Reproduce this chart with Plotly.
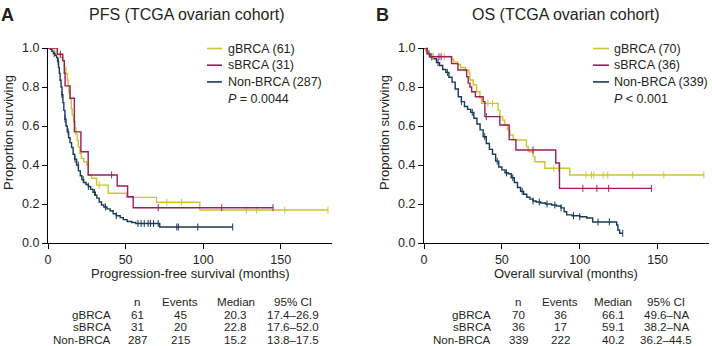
import numpy as np
import plotly.graph_objects as go

W, H = 712, 346
FONT = "Liberation Sans, Arial, Helvetica, sans-serif"
TXT = "#231f20"

# ---------------- data ----------------
groups = ["gBRCA", "sBRCA", "Non-BRCA"]
colors = ["#c9c62e", "#9c1d5d", "#183a5a"]

# PFS (TCGA ovarian cohort) – Kaplan-Meier step points (months, proportion)
pfs_g_t = [0, 4, 6, 8, 9.5, 10.5, 11.5, 12.5, 13, 13.5, 14.2, 15, 15.6, 16.5, 17.4, 18, 18.8, 19.5,
           20.6, 21.5, 23, 25, 26, 28, 31.3, 38.8, 50.6, 69.9, 97.8, 180.4]
pfs_g_s = [1.0, 0.984, 0.967, 0.951, 0.934, 0.902, 0.869, 0.836, 0.803, 0.77, 0.738, 0.689, 0.656, 0.623,
           0.59, 0.557, 0.525, 0.492, 0.459, 0.434, 0.417, 0.40, 0.349, 0.332, 0.297, 0.255, 0.234, 0.209,
           0.169, 0.169]
pfs_g_cens = [33, 76.6, 86, 127.8, 134.3, 152.5, 180.4]

pfs_s_t = [0, 6, 9.5, 10.5, 11, 14.2, 17, 21.2, 25.9, 44.6, 51.3, 54.9, 145]
pfs_s_s = [1.0, 0.968, 0.935, 0.871, 0.806, 0.742, 0.57, 0.468, 0.349, 0.292, 0.237, 0.181, 0.181]
pfs_s_cens = [8, 41, 71, 112, 145]

pfs_n_t = [0, 1.5, 2.5, 3.5, 4.5, 5.5, 6.2, 6.8, 7.3, 7.8, 8.4, 9.0, 9.6, 10.2, 10.9, 11.6, 12.4, 13.3,
           14.2, 15.2, 16.2, 17.2, 18.4, 19.6, 20.8, 21.8, 23.0, 24.5, 26.0, 27.5, 29.0, 30.5, 31.5, 33.0,
           34.5, 36.0, 38.0, 40.0, 42.0, 44.0, 46.5, 48.5, 51.0, 54.0, 56.5, 72.0, 119]
pfs_n_s = [1.0, 0.993, 0.983, 0.972, 0.962, 0.951, 0.93, 0.90, 0.87, 0.835, 0.80, 0.76, 0.72, 0.68, 0.635,
           0.60, 0.57, 0.54, 0.515, 0.49, 0.455, 0.43, 0.40, 0.37, 0.345, 0.325, 0.31, 0.30, 0.29, 0.275,
           0.26, 0.245, 0.23, 0.21, 0.195, 0.185, 0.175, 0.165, 0.15, 0.14, 0.13, 0.12, 0.11, 0.105, 0.10,
           0.082, 0.082]
pfs_n_cens = [4, 6.6, 9, 11, 13, 17.4, 19.5, 22.7, 26, 30, 37, 44, 58, 60, 62, 64.5, 66, 68, 71, 83, 84,
              96.5, 119]

# OS (TCGA ovarian cohort)
os_g_t = [0, 1, 2.5, 3.5, 17.7, 19, 21.5, 23.5, 26.5, 28.8, 29.5, 31.6, 33.8, 35.9, 37, 47.6, 48.7, 50.5,
          51.9, 53.6, 55.1, 57.3, 65.8, 66.9, 70.1, 71.2, 77.6, 93.6, 179.7]
os_g_s = [1.0, 0.986, 0.971, 0.957, 0.943, 0.929, 0.914, 0.90, 0.886, 0.871, 0.836, 0.81, 0.776, 0.743,
          0.716, 0.68, 0.648, 0.63, 0.605, 0.58, 0.554, 0.528, 0.494, 0.468, 0.443, 0.417, 0.383, 0.349,
          0.349]
os_g_cens = [6, 13, 41, 44, 83.3, 86.5, 104, 107.5, 109, 115, 118, 134, 154, 179.7]

os_s_t = [0, 2, 3.5, 17.7, 21.8, 27.4, 28.4, 29.5, 30.6, 33, 38, 39.1, 48.7, 54.7, 59, 84.6, 87, 146]
os_s_s = [1.0, 0.972, 0.955, 0.92, 0.887, 0.853, 0.82, 0.80, 0.776, 0.75, 0.725, 0.648, 0.605, 0.53,
          0.477, 0.41, 0.28, 0.28]
os_s_cens = [9.6, 11, 40, 70, 102, 111, 118.6, 146]

os_n_t = [0, 1, 2, 3, 4, 6, 8, 10, 12, 14, 16, 18, 20, 22, 24, 26, 28, 30, 32, 34, 36, 38, 40, 42, 44,
          46, 48, 50, 52, 54, 56, 58, 60, 62, 64, 66, 68, 70, 72, 75, 78, 82, 85, 88, 90, 91.6, 95, 100,
          104.5, 108.3, 123.7, 124.5, 125.6, 127.6]
os_n_s = [1.0, 0.994, 0.985, 0.97, 0.955, 0.945, 0.925, 0.91, 0.89, 0.875, 0.85, 0.825, 0.79, 0.75, 0.725,
          0.70, 0.685, 0.67, 0.64, 0.61, 0.58, 0.545, 0.51, 0.48, 0.455, 0.42, 0.39, 0.375, 0.36, 0.355,
          0.335, 0.31, 0.285, 0.265, 0.25, 0.235, 0.225, 0.215, 0.21, 0.205, 0.20, 0.195, 0.19, 0.18, 0.16,
          0.144, 0.14, 0.135, 0.128, 0.108, 0.092, 0.067, 0.05, 0.05]
os_n_cens = [2, 5, 9, 15, 24, 31, 39, 47, 53, 57, 63, 70, 74, 79, 84, 88, 96, 100, 111.7, 119, 127.6]

x_ticks = [0, 50, 100, 150]
y_ticks = [0.0, 0.2, 0.4, 0.6, 0.8, 1.0]
y_tick_labels = ["0.0", "0.2", "0.4", "0.6", "0.8", "1.0"]

pfs_legend = ["gBRCA (61)", "sBRCA (31)", "Non-BRCA (287)"]
os_legend = ["gBRCA (70)", "sBRCA (36)", "Non-BRCA (339)"]
pfs_p = "<i>P</i> = 0.0044"
os_p = "<i>P</i> &lt; 0.001"

table_header = ["n", "Events", "Median", "95% CI"]
pfs_n = ["61", "31", "287"]
pfs_events = ["45", "20", "215"]
pfs_median = ["20.3", "22.8", "15.2"]
pfs_ci = ["17.4–26.9", "17.6–52.0", "13.8–17.5"]
os_n = ["70", "36", "339"]
os_events = ["36", "17", "222"]
os_median = ["66.1", "59.1", "40.2"]
os_ci = ["49.6–NA", "38.2–NA", "36.2–44.5"]

# ---------------- figure ----------------
def px(x):
    return x / W

def py(y):
    return 1 - y / H

def level(ts, ss, tc):
    ts = np.asarray(ts, float)
    idx = np.searchsorted(ts, np.asarray(tc, float), side="right") - 1
    return np.asarray(ss, float)[np.clip(idx, 0, len(ss) - 1)]

fig = go.Figure()

panels = [
    ("x", "y", [(pfs_g_t, pfs_g_s, pfs_g_cens), (pfs_s_t, pfs_s_s, pfs_s_cens), (pfs_n_t, pfs_n_s, pfs_n_cens)]),
    ("x2", "y2", [(os_g_t, os_g_s, os_g_cens), (os_s_t, os_s_s, os_s_cens), (os_n_t, os_n_s, os_n_cens)]),
]
for xa, ya, curves in panels:
    # draw Non-BRCA first so the BRCA curves sit on top
    for i in [2, 0, 1]:
        t, s, c = curves[i]
        fig.add_trace(go.Scatter(x=t, y=s, mode="lines", line=dict(color=colors[i], width=1.4, shape="hv"),
                                 xaxis=xa, yaxis=ya, showlegend=False, hoverinfo="skip", cliponaxis=False))
        fig.add_trace(go.Scatter(x=c, y=level(t, s, c), mode="markers",
                                 marker=dict(symbol="line-ns", size=5, line=dict(width=1, color=colors[i])),
                                 xaxis=xa, yaxis=ya, showlegend=False, hoverinfo="skip", cliponaxis=False))

axis_common = dict(showline=True, linecolor="black", linewidth=1.2, ticks="outside", ticklen=5,
                   tickcolor="black", tickwidth=1.2, showgrid=False, zeroline=False, automargin=False,
                   tickfont=dict(family=FONT, size=12.5, color=TXT))
fig.update_layout(
    width=W, height=H, margin=dict(l=0, r=0, t=0, b=0, pad=0, autoexpand=False), autosize=False,
    showlegend=False,
    paper_bgcolor="white", plot_bgcolor="white",
    font=dict(family=FONT, color=TXT),
    xaxis=dict(domain=[px(48), px(332)], range=[0, 183], tickvals=x_ticks, anchor="y", **axis_common),
    yaxis=dict(domain=[py(243), py(48)], range=[0, 1.0], tickvals=y_ticks, ticktext=y_tick_labels,
               anchor="x", **axis_common),
    xaxis2=dict(domain=[px(424), px(709)], range=[0, 183], tickvals=x_ticks, anchor="y2", **axis_common),
    yaxis2=dict(domain=[py(243), py(48)], range=[0, 1.0], tickvals=y_ticks, ticktext=y_tick_labels,
                anchor="x2", **axis_common),
)

ann = []
shapes = []

def text(x, y, s, size=12, xanchor="center", **kw):
    ann.append(dict(x=px(x), y=py(y), xref="paper", yref="paper", text=s, showarrow=False, borderpad=0,
                    xanchor=xanchor, yanchor="middle", font=dict(family=FONT, size=size, color=TXT), **kw))

# panel letters and titles
text(7, 15, "<b>A</b>", size=18)
text(383, 15, "<b>B</b>", size=18)
text(187, 15, "PFS (TCGA ovarian cohort)", size=16)
text(566, 15, "OS (TCGA ovarian cohort)", size=16)

# axis titles
text(190, 273, "Progression-free survival (months)", size=13)
text(566, 273, "Overall survival (months)", size=13)
text(8, 133, "Proportion surviving", size=13, textangle=-90)
text(384, 133, "Proportion surviving", size=13, textangle=-90)

# legends
for (lx0, lx1, tx, labels, ptxt) in [(207, 222, 227, pfs_legend, pfs_p), (593, 609, 613, os_legend, os_p)]:
    for i, lab in enumerate(labels):
        yy = 48.5 + i * 16.7
        shapes.append(dict(type="line", xref="paper", yref="paper", x0=px(lx0), x1=px(lx1),
                           y0=py(yy), y1=py(yy), line=dict(color=colors[i], width=1.6)))
        text(tx, yy, lab, size=12.5, xanchor="left")
    text(tx, 48.5 + 3 * 16.7, ptxt, size=12.5, xanchor="left")

# tables
header_y = 301
row_y = [314, 326.7, 339.4]
for (lab_x, col_x, cols) in [
    (112, [137, 180, 236, 293], [pfs_n, pfs_events, pfs_median, pfs_ci]),
    (492, [518, 560, 613, 666], [os_n, os_events, os_median, os_ci]),
]:
    for j, h in enumerate(table_header):
        text(col_x[j], header_y, h, size=11.6)
    for i, g in enumerate(groups):
        text(lab_x, row_y[i], g, size=11.6, xanchor="right")
        for j in range(4):
            text(col_x[j], row_y[i], cols[j][i], size=11.6)

fig.update_layout(annotations=ann, shapes=shapes)
fig.write_html("out.html", config={"responsive": False, "displayModeBar": False},
               post_script="document.documentElement.style.margin='0';document.body.style.margin='0';"
                           "document.body.style.padding='0';document.body.style.overflow='hidden';")
